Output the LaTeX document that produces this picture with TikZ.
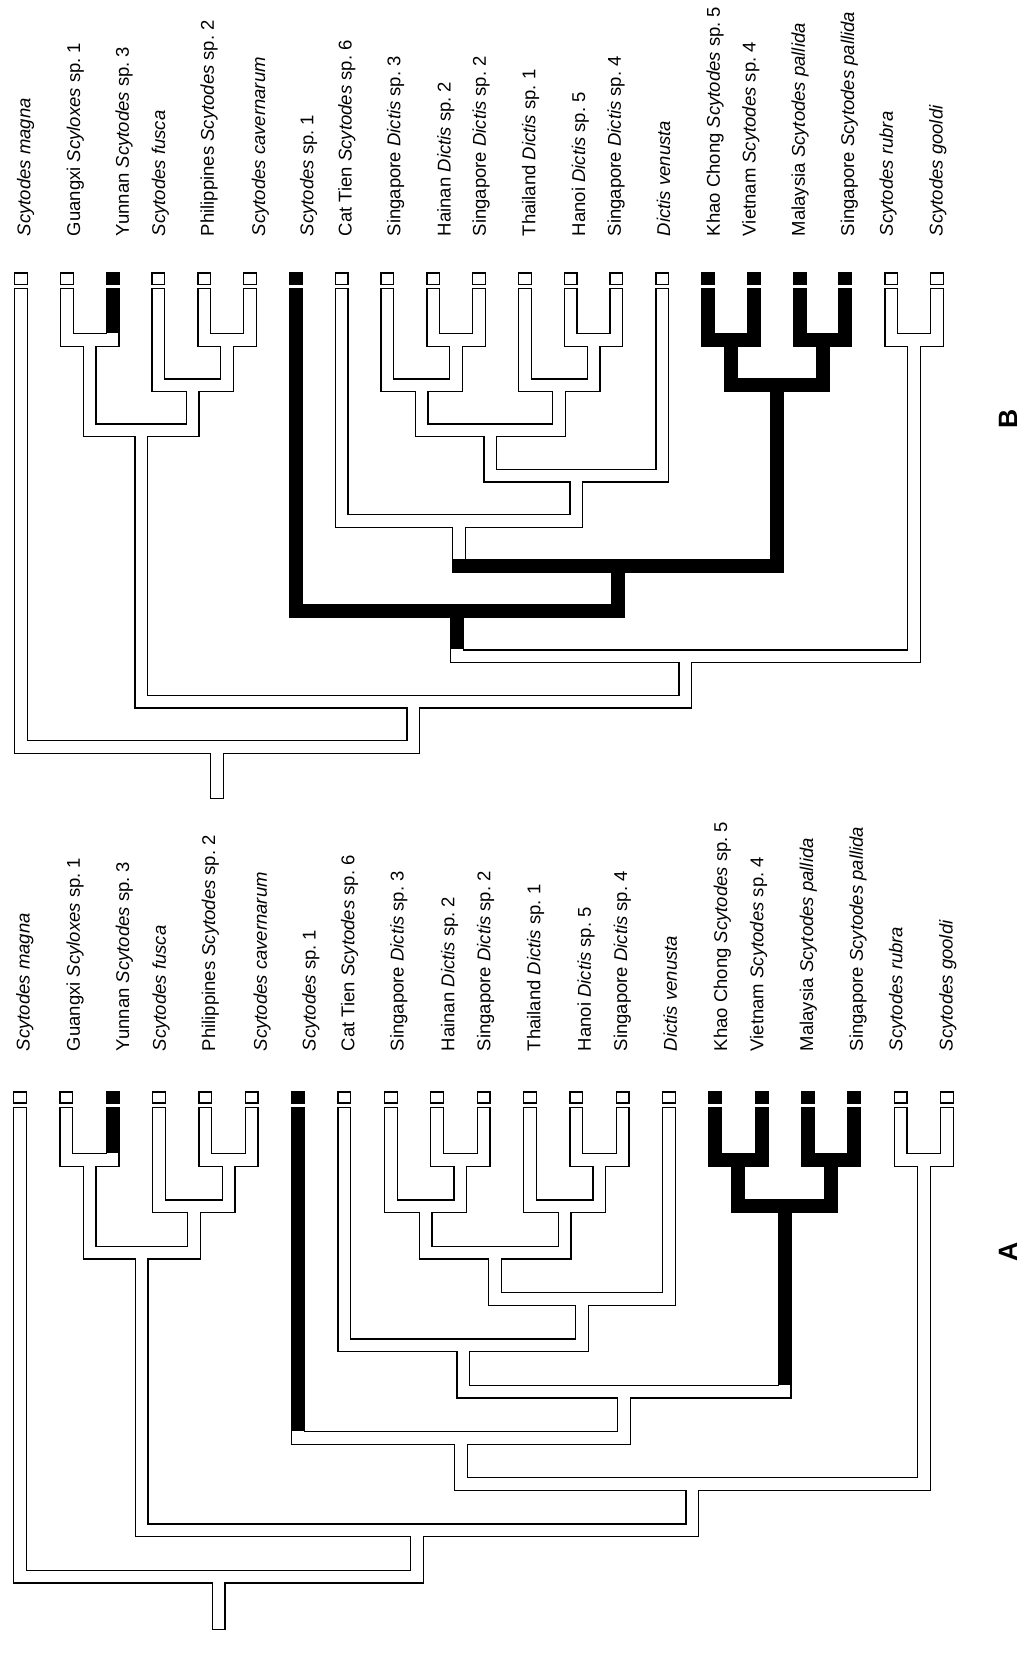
\documentclass[tikz,border=0pt]{standalone}
\usepackage{fontspec}
\setmainfont{Liberation Sans}
\usepackage{tikz}
\usetikzlibrary{positioning}

\begin{document}
\frenchspacing
\begin{tikzpicture}[x=0.5pt, y=-0.5pt,
    tube/.style={line cap=rect, line join=miter},
    blackbranch/.style={tube, draw=black, line width=7pt},
    leafbox/.style={draw=black, line width=0.65pt, minimum width=6.35pt, minimum height=5.6pt, inner sep=0pt},
    taxon/.style={rotate=90, anchor=base west, inner sep=0pt, font=\fontsize{9.25}{11}\selectfont},
    panel/.style={rotate=90, inner sep=0pt, font=\fontsize{13.25}{15}\selectfont\bfseries}]

  \fill[white] (0,0) rectangle (1021,1655);
  \useasboundingbox (0,0) rectangle (1021,1655);

  % Parent/child pairs of the cladogram
  \def\cladeedges{root/l1, root/n221, n221/n2to6, n221/n721,
    n2to6/n23, n2to6/n456, n23/l2, n23/l3, n456/l4, n456/n56, n56/l5, n56/l6,
    n721/n719, n721/n2021, n2021/l20, n2021/l21, n719/l7, n719/n819,
    n819/n815, n819/n1619, n815/l8, n815/n915, n915/n914, n915/l15,
    n914/n911, n914/n1214, n911/l9, n911/n1011, n1011/l10, n1011/l11,
    n1214/l12, n1214/n1314, n1314/l13, n1314/l14,
    n1619/n1617, n1619/n1819, n1617/l16, n1617/l17, n1819/l18, n1819/l19}

  % Taxa: leaf / label shift (px) / box fill / name
  \def\cladetaxa{1/9.5/white/{\textit{Scytodes magna}},
    2/13.4/white/{Guangxi \textit{Scyloxes} sp. 1},
    3/16.3/black/{Yunnan \textit{Scytodes} sp. 3},
    4/6.8/white/{\textit{Scytodes fusca}},
    5/9.7/white/{Philippines \textit{Scytodes} sp. 2},
    6/15.1/white/{\textit{Scytodes cavernarum}},
    7/17.5/black/{\textit{Scytodes} sp. 1},
    8/10/white/{Cat Tien \textit{Scytodes} sp. 6},
    9/12.9/white/{Singapore \textit{Dictis} sp. 3},
    10/17.3/white/{Hainan \textit{Dictis} sp. 2},
    11/6.8/white/{Singapore \textit{Dictis} sp. 2},
    12/10.6/white/{Thailand \textit{Dictis} sp. 1},
    13/14.6/white/{Hanoi \textit{Dictis} sp. 5},
    14/4.5/white/{Singapore \textit{Dictis} sp. 4},
    15/8/white/{\textit{Dictis venusta}},
    16/11.8/black/{Khao Chong \textit{Scytodes} sp. 5},
    17/1.8/black/{Vietnam \textit{Scytodes} sp. 4},
    18/5.2/black/{Malaysia \textit{Scytodes pallida}},
    19/8.6/black/{Singapore \textit{Scytodes pallida}},
    20/1.6/white/{\textit{Scytodes rubra}},
    21/5.5/white/{\textit{Scytodes gooldi}}}

  % One cladogram: x = leaf index, y = node level
  \def\drawclade#1{
    % Leaf tips
    \foreach \i in {1,...,21}
      \coordinate (l\i) at (\i-1, 0);

    % Internal nodes, halfway between their children
    \coordinate (n23) at (1.5, 1);
    \coordinate (n56) at (4.5, 1);
    \coordinate (n456) at (3.75, 2);
    \coordinate (n2to6) at (2.625, 3);
    \coordinate (n1011) at (9.5, 1);
    \coordinate (n911) at (8.75, 2);
    \coordinate (n1314) at (12.5, 1);
    \coordinate (n1214) at (11.75, 2);
    \coordinate (n914) at (10.25, 3);
    \coordinate (n915) at (12.125, 4);
    \coordinate (n815) at (9.5625, 5);
    \coordinate (n1617) at (15.5, 1);
    \coordinate (n1819) at (17.5, 1);
    \coordinate (n1619) at (16.5, 2);
    \coordinate (n819) at (13.031, 6);
    \coordinate (n719) at (9.516, 7);
    \coordinate (n2021) at (19.5, 1);
    \coordinate (n721) at (14.508, 8);
    \coordinate (n221) at (8.566, 9);
    \coordinate (root) at (4.283, 10);
    \coordinate (base) at (4.283, 11);

    % Branches as tubes: black outline first, white inside after
    \foreach \w/\col in {7pt/black, 5.7pt/white} {
      \foreach \p/\c in \cladeedges
        \draw[tube, line width=\w, draw=\col] (\p) -| (\c);
      \draw[tube, line width=\w, draw=\col] (root) -- (base);
    }

    % Boxes and names at the tips
    \foreach \i/\off/\f/\lab in \cladetaxa {
      \node[leafbox, fill=\f] (box\i) at ([yshift=8.1pt]l\i) {};
      \node[taxon] (lab\i) at ([xshift=\off*0.5pt, yshift=#1]l\i) {\lab};
    }
  }

  % Tree B (top)
  \begin{scope}[shift={(21,294.8)}, x=22.9pt, y=-22.6pt, name prefix=B-]
    \drawclade{29.15pt}
    \draw[blackbranch] (n719) -| (l7) (n719) -| (n819) (n819) -- (n819 -| n815)
      (n819) -| (n1619) (n1619) -| (n1617) (n1619) -| (n1819)
      (n1617) -| (l16) (n1617) -| (l17) (n1819) -| (l18) (n1819) -| (l19);
    \draw[blackbranch, line cap=butt] ([yshift=3.5pt]l3) -- ([yshift=3.5pt]l3 |- n23)
      (n719) -- ([yshift=3.5pt]n719 |- n721);
  \end{scope}

  % Tree A (bottom)
  \begin{scope}[shift={(20,1113.7)}, x=23.175pt, y=-23.15pt, name prefix=A-]
    \drawclade{31.1pt}
    \draw[blackbranch] (n1619) -| (n1617) (n1619) -| (n1819)
      (n1617) -| (l16) (n1617) -| (l17) (n1819) -| (l18) (n1819) -| (l19);
    \draw[blackbranch, line cap=butt] ([yshift=3.5pt]l3) -- ([yshift=3.5pt]l3 |- n23)
      ([yshift=3.5pt]l7) -- ([yshift=3.5pt]l7 |- n719)
      (n1619) -- ([yshift=3.5pt]n1619 |- n819);
  \end{scope}

  \node[panel] (titleB) at (1008, 419) {B};
  \node[panel] (titleA) at (1008, 1252) {A};

\end{tikzpicture}
\end{document}
